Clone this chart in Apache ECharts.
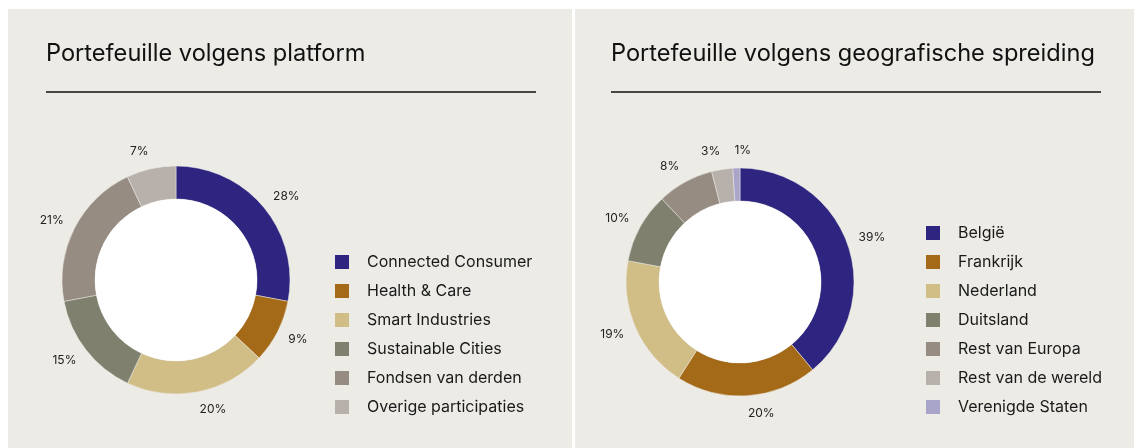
<!DOCTYPE html>
<html>
<head>
<meta charset="utf-8">
<script src="https://cdn.jsdelivr.net/npm/echarts@6/dist/echarts.min.js"></script>
<style>
  html, body { margin: 0; padding: 0; background: #ffffff; }
  #main { width: 1136px; height: 448px; }
</style>
</head>
<body>
<div id="main"></div>
<script>
// portefeuille volgens platform
const platformNames = ['Connected Consumer', 'Health & Care', 'Smart Industries', 'Sustainable Cities', 'Fondsen van derden', 'Overige participaties']
const platformValues = [28, 9, 20, 15, 21, 7]
const platformColors = ['#2d2580', '#a56a17', '#d1bd86', '#7f806e', '#968c81', '#b8b1ab']

// portefeuille volgens geografische spreiding
const geoNames = ['België', 'Frankrijk', 'Nederland', 'Duitsland', 'Rest van Europa', 'Rest van de wereld', 'Verenigde Staten']
const geoValues = [39, 20, 19, 10, 8, 3, 1]
const geoColors = ['#2d2580', '#a56a17', '#d1bd86', '#7f806e', '#968c81', '#b8b1ab', '#a9a4c9']

const FONT = 'Inter, "Noto Sans", sans-serif'
const BG = '#ecebe6'

function toData(names, values, colors) {
  return names.map((n, i) => ({ name: n, value: values[i], itemStyle: { color: colors[i] } }))
}

// push labels a bit further out above/below the ring so the gap is even all round
function edgeLayout(center, lastDx) {
  return function (p) {
    const r = p.labelRect
    const x = r.x + r.width / 2
    const y = r.y + r.height / 2
    const d = Math.hypot(x - center[0], y - center[1]) || 1
    const out = { dy: (6 * (y - center[1])) / d, hideOverlap: false }
    if (lastDx && p.dataIndex === lastDx[0]) out.dx = lastDx[1]
    return out
  }
}

// donut with outside labels (no lines) + white hole
function donut(center, names, values, colors, lastDx) {
  return [
    {
      type: 'pie',
      center: center,
      radius: [81, 114],
      startAngle: 90,
      clockwise: true,
      avoidLabelOverlap: false,
      label: {
        show: true,
        position: 'outside',
        formatter: '{c}%',
        color: '#222',
        fontSize: 12,
        fontFamily: FONT,
        distanceToLabelLine: 0,
      },
      labelLine: { show: false, length: 12, length2: 0 },
      labelLayout: edgeLayout(center, lastDx),
      itemStyle: { borderColor: BG, borderWidth: 0.5 },
      emphasis: { disabled: true },
      data: toData(names, values, colors),
    },
    {
      type: 'pie',
      center: center,
      radius: [0, 81],
      silent: true,
      label: { show: false },
      data: [{ name: '', value: 1, itemStyle: { color: '#ffffff' } }],
    },
  ]
}

function legend(left, top, names) {
  return {
    orient: 'vertical',
    left: left,
    top: top,
    padding: 0,
    icon: 'rect',
    itemWidth: 16,
    itemHeight: 16,
    itemGap: 11,
    selectedMode: false,
    data: names,
    textStyle: { fontSize: 16, color: '#1a1a1a', fontFamily: FONT, padding: [0, 0, 0, 12] },
  }
}

const chart = echarts.init(document.getElementById('main'))
chart.setOption({
  animation: false,
  graphic: [
    { type: 'rect', shape: { x: 8, y: 9, width: 564, height: 439 }, style: { fill: BG }, z: -10 },
    { type: 'rect', shape: { x: 575, y: 9, width: 559, height: 439 }, style: { fill: BG }, z: -10 },
    { type: 'line', shape: { x1: 46, y1: 92, x2: 536, y2: 92 }, style: { stroke: '#111', lineWidth: 1.5 } },
    { type: 'line', shape: { x1: 611, y1: 92, x2: 1101, y2: 92 }, style: { stroke: '#111', lineWidth: 1.5 } },
  ],
  title: [
    { text: 'Portefeuille volgens platform', left: 46, top: 42, padding: 0, textStyle: { fontSize: 23.6, fontWeight: 'normal', color: '#111', fontFamily: FONT } },
    { text: 'Portefeuille volgens geografische spreiding', left: 611, top: 42, padding: 0, textStyle: { fontSize: 23.6, fontWeight: 'normal', color: '#111', fontFamily: FONT } },
  ],
  legend: [
    legend(333, 253, platformNames),
    legend(924, 224, geoNames),
  ],
  series: [
    ...donut([176, 280], platformNames, platformValues, platformColors),
    // the tiny last slice sits just left of 12 o'clock; its label goes right of the 3%
    ...donut([740, 282], geoNames, geoValues, geoColors, [geoValues.length - 1, 15]),
  ],
})
</script>
</body>
</html>
